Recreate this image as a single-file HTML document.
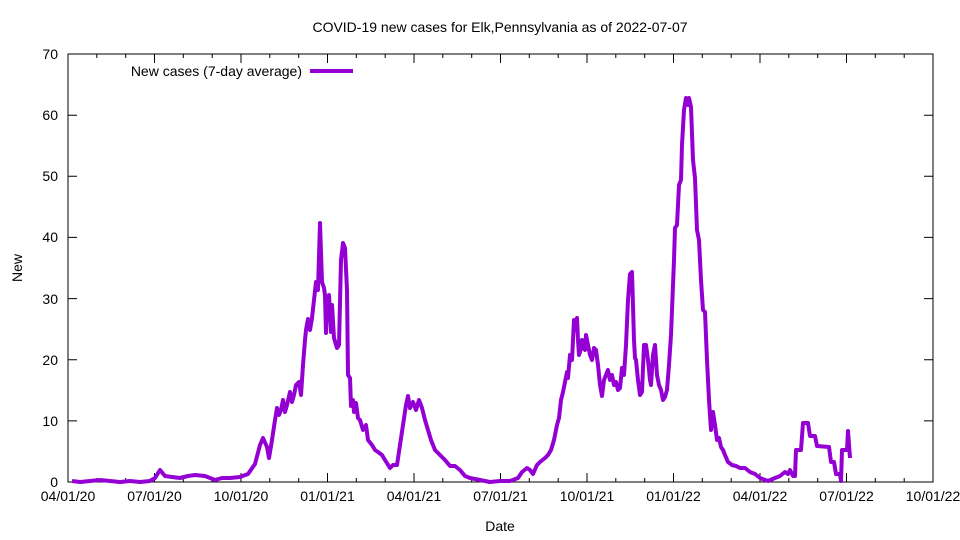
<!DOCTYPE html>
<html><head><meta charset="utf-8"><style>
html,body{margin:0;padding:0;background:#fff;}
svg{display:block;font-family:"Liberation Sans",sans-serif;}
</style></head><body>
<svg width="960" height="540" viewBox="0 0 960 540" xmlns="http://www.w3.org/2000/svg">
<rect width="960" height="540" fill="#fff"/>
<text x="500" y="32" font-size="14" text-anchor="middle">COVID-19 new cases for Elk,Pennsylvania as of 2022-07-07</text>
<g stroke="#000" stroke-width="1">
<rect x="68" y="54" width="865" height="428" fill="none"/>
<path d="M68 482h9M68 420.9h9M68 359.7h9M68 298.6h9M68 237.4h9M68 176.3h9M68 115.2h9
M933 482h-9M933 420.9h-9M933 359.7h-9M933 298.6h-9M933 237.4h-9M933 176.3h-9M933 115.2h-9
M154.5 482v-9M241 482v-9M327.5 482v-9M414 482v-9M500.5 482v-9M587 482v-9M673.5 482v-9M760 482v-9M846.5 482v-9
M154.5 54v9M241 54v9M327.5 54v9M414 54v9M500.5 54v9M587 54v9M673.5 54v9M760 54v9M846.5 54v9
M96.8 482v-4M125.7 482v-4M183.3 482v-4M212.2 482v-4M269.8 482v-4M298.7 482v-4M356.3 482v-4M385.2 482v-4M442.8 482v-4M471.7 482v-4M529.3 482v-4M558.2 482v-4M615.8 482v-4M644.7 482v-4M702.3 482v-4M731.2 482v-4M788.8 482v-4M817.7 482v-4M875.3 482v-4M904.2 482v-4
M96.8 54v4M125.7 54v4M183.3 54v4M212.2 54v4M269.8 54v4M298.7 54v4M356.3 54v4M385.2 54v4M442.8 54v4M471.7 54v4M529.3 54v4M558.2 54v4M615.8 54v4M644.7 54v4M702.3 54v4M731.2 54v4M788.8 54v4M817.7 54v4M875.3 54v4M904.2 54v4"/>
</g>
<g font-size="14" text-anchor="end">
<text x="58" y="487">0</text><text x="58" y="426">10</text><text x="58" y="365">20</text><text x="58" y="304">30</text><text x="58" y="242">40</text><text x="58" y="181">50</text><text x="58" y="120">60</text><text x="58" y="59">70</text>
</g>
<g font-size="14" text-anchor="middle">
<text x="68" y="501">04/01/20</text><text x="154.5" y="501">07/01/20</text><text x="241" y="501">10/01/20</text><text x="327.5" y="501">01/01/21</text><text x="414" y="501">04/01/21</text><text x="500.5" y="501">07/01/21</text><text x="587" y="501">10/01/21</text><text x="673.5" y="501">01/01/22</text><text x="760" y="501">04/01/22</text><text x="846.5" y="501">07/01/22</text><text x="933" y="501">10/01/22</text>
<text x="500" y="531">Date</text>
<text transform="translate(22,268) rotate(-90)">New</text>
</g>
<text x="302" y="76" font-size="14" text-anchor="end">New cases (7-day average)</text>
<line x1="310" y1="71" x2="353" y2="71" stroke="#9400d3" stroke-width="4"/>
<polyline fill="none" stroke="#9400d3" stroke-width="4" stroke-linejoin="round" points="72,481 80,482 90,481 100,480 110,481 120,482 130,481 140,482 150,481 155,478 160,470 165,476 172,477 180,478 188,476 195,475 205,476 215,480 222,478 230,478 240,477 248,474 255,464 260,445 263,438 267,447 269,458 272,440 275,420 277,408 279,415 281,410 283,400 285,412 287,405 290,392 292,402 294,395 296,385 299,382 301,395 303,365 305,340 306,330 308,319 310,330 312,318 314,300 316,282 318,290 320,223 322,282 324,288 325,295 326,333 327,302 329,295 331,332 332,305 334,338 337,348 339,345 341,260 343,243 345,248 347,290 348,375 350,378 351,406 353,400 354,412 356,403 358,418 360,420 363,430 366,425 368,440 372,445 375,450 378,452 382,455 385,460 390,468 393,465 397,465 400,445 403,425 406,405 408,396 410,408 413,402 416,410 419,400 422,408 425,420 428,430 431,440 435,450 440,455 445,460 450,466 455,466 460,470 465,476 470,478 480,480 490,482 500,481 510,481 518,478 522,472 527,468 530,470 533,474 537,465 540,462 545,458 548,455 551,450 554,440 557,425 559,418 561,400 563,392 565,382 567,372 568,378 570,355 572,360 574,320 576,330 577,318 578,340 579,355 580,352 582,340 583,348 585,350 586,335 588,345 590,355 592,360 594,348 596,350 598,365 600,385 602,396 604,380 606,375 608,370 610,380 612,375 614,385 616,382 618,390 620,388 622,368 624,375 626,345 628,300 630,274 632,272 634,340 635,358 636,360 638,380 640,395 642,392 644,345 646,345 648,360 650,380 651,385 653,355 655,345 657,375 659,385 661,390 663,400 665,397 667,390 669,365 671,335 672,310 674,260 675,228 677,225 679,185 681,180 682,145 684,110 686,98 688,105 689,98 691,107 693,160 695,178 697,230 699,240 701,280 703,310 705,312 707,360 709,400 711,430 713,412 715,425 717,440 719,438 721,447 723,450 725,455 728,462 732,465 736,466 740,468 745,468 750,472 755,474 760,478 768,481 775,478 780,476 785,472 788,474 790,470 793,476 795,476 796,450 801,450 803,423 808,423 810,436 815,436 817,446 829,447 831,462 834,462 836,474 840,474 841,481 842,450 847,450 848,431 850,458"/>
</svg>
</body></html>
